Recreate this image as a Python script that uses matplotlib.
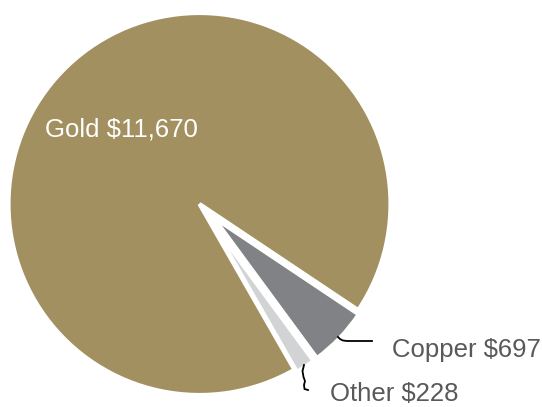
import matplotlib
matplotlib.use("Agg")
import matplotlib.pyplot as plt

# data
metals = ["Gold", "Copper", "Other"]
values = [11670, 697, 228]
colors = ["#A39060", "#808285", "#D1D3D4"]

plt.rcParams['font.family'] = ['Liberation Sans', 'DejaVu Sans']

W, H = 542, 407
fig = plt.figure(figsize=(W / 100, H / 100), dpi=100)
ax = fig.add_axes([0, 0, 1, 1])

# pixel-like data units, y up
cx, cy, r = 199.5, 203, 191
wedges, _ = ax.pie(values, colors=colors, startangle=-60.2, counterclock=False,
                   explode=[0, 19, 19], center=(cx, cy), radius=r,
                   wedgeprops=dict(edgecolor="white", linewidth=3))
# the small slices are drawn a bit smaller than gold
for w in wedges[1:]:
    w.set_radius(175)

ax.set_xlim(0, W)
ax.set_ylim(0, H)
ax.set_aspect('equal')
ax.axis('off')

txt = "#595959"
fs = 18.5
ax.text(45, 277, f"{metals[0]} ${values[0]:,}", color="white", fontsize=fs,
        ha="left", va="center")
ax.text(392, 57, f"{metals[1]} ${values[1]:,}", color=txt, fontsize=fs,
        ha="left", va="center")
ax.text(330, 6, f"{metals[2]} ${values[2]:,}", color=txt, fontsize=fs,
        ha="left", va="baseline")

# leader lines
ax.plot([338, 340, 343, 347, 372], [70, 68, 66.5, 66, 66], color="black", lw=1.3)
ax.plot([304, 302.5, 303.5, 305, 304, 304.5, 308], [42, 36, 30, 26, 22, 18, 17],
        color="black", lw=1.3)

fig.savefig("out.png", dpi=100)
